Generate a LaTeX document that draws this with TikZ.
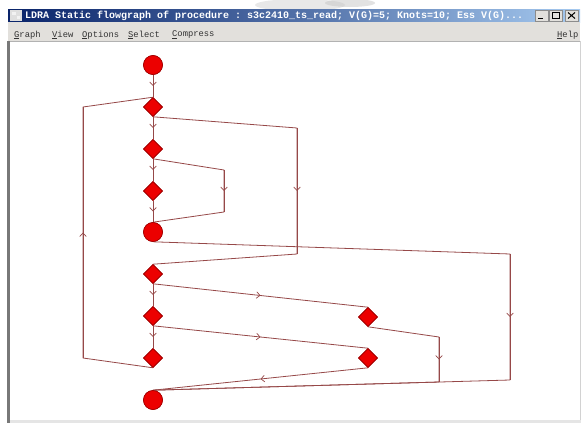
\documentclass[tikz,border=0pt]{standalone}
\usepackage{fontspec}
\setmonofont{Liberation Mono}
\usetikzlibrary{arrows.meta,decorations.markings,shapes.geometric}

\definecolor{edgecol}{RGB}{150,72,72}
\definecolor{nodefill}{RGB}{236,0,0}
\definecolor{nodeline}{RGB}{160,0,0}
\definecolor{titledark}{RGB}{10,36,106}
\definecolor{titlelight}{RGB}{166,202,240}
\definecolor{winface}{RGB}{226,224,220}
\definecolor{winframe}{RGB}{120,120,120}

\tikzset{
  flow/.style={draw=edgecol, line width=0.8pt, line join=round},
  midarrow/.style={postaction={decorate},
    decoration={markings, mark=at position 0.5 with
      {\arrow[edgecol]{Straight Barb[length=3.5pt,width=6.5pt,line width=0.7pt]}}}},
  junction/.style={circle, fill=nodefill, draw=nodeline, line width=0.6pt,
    minimum size=19pt, inner sep=0pt},
  decision/.style={diamond, fill=nodefill, draw=nodeline, line width=0.6pt,
    minimum width=19pt, minimum height=19pt, inner sep=0pt},
  titletext/.style={font=\ttfamily\bfseries\fontsize{10}{10}\selectfont,
    text=white, anchor=west, inner sep=0pt},
  menutext/.style={font=\ttfamily\fontsize{8.8}{9}\selectfont,
    text=black!80, anchor=west, inner sep=0pt},
  winbutton/.style={fill=winface, draw=black!45, line width=0.5pt}
}

\begin{document}
\begin{tikzpicture}[x=1pt,y=-1pt]
  % page area
  \useasboundingbox (0,0) rectangle (584,423);
  \fill[white] (0,0) rectangle (584,423);
  % faint smudge above the window
  \fill[gray!30, opacity=0.6] (300,5) ellipse (45pt and 6pt);
  \fill[gray!45, opacity=0.5] (350,3) ellipse (25pt and 4pt);

  % title bar
  \shade[left color=titledark, right color=titlelight, middle color=titledark!55!titlelight]
    (8,9) rectangle (580,22);
  \fill[gray!25] (10,10) rectangle (22,21);
  \fill[white!90!gray] (12,12) rectangle (16,15);
  \fill[white!90!gray] (17,16) rectangle (20,19);
  \node[titletext] (title) at (25,15.5)
    {LDRA Static flowgraph of procedure : s3c2410\_ts\_read; V(G)=5; Knots=10; Ess V(G)...};

  % window buttons
  \draw[winbutton] (535,10) rectangle (548,21);
  \draw[black, line width=1.2pt] (538,18.5) -- (543,18.5);
  \draw[winbutton] (549,10) rectangle (562,21);
  \draw[black, line width=0.8pt] (552,12.5) rectangle (559,18.5);
  \draw[black, line width=1.4pt] (552,12.7) -- (559,12.7);
  \draw[winbutton] (565,10) rectangle (578,21);
  \draw[black, line width=1pt] (568,12.5) -- (575,18.5) (575,12.5) -- (568,18.5);

  % menu bar
  \fill[winface] (8,22) rectangle (580,41);
  \node[menutext] (mgraph) at (14,35) {\underline{G}raph};
  \node[menutext] (mview) at (52,35) {\underline{V}iew};
  \node[menutext] (mopt) at (82,35) {\underline{O}ptions};
  \node[menutext] (msel) at (128,35) {\underline{S}elect};
  \node[menutext] (mcomp) at (172,35) {\underline{C}ompress};
  \node[menutext] (mhelp) at (557,35) {\underline{H}elp};

  % canvas frame
  \draw[gray!60, line width=0.8pt] (10,41.5) -- (580,41.5);
  \fill[winframe] (7,41) rectangle (10,423);
  \fill[gray!35] (579.5,41) rectangle (581,423);
  \fill[gray!20] (10,420) rectangle (581,423);

  % flowgraph nodes
  \node[junction] (c1) at (153,65) {};
  \node[decision] (d1) at (153,107) {};
  \node[decision] (d2) at (153,149) {};
  \node[decision] (d3) at (153,191) {};
  \node[junction] (c2) at (153,232) {};
  \node[decision] (d4) at (153,274) {};
  \node[decision] (d5) at (153,316) {};
  \node[decision] (d6) at (153,358) {};
  \node[junction] (c3) at (153,400) {};
  \node[decision] (r1) at (368,317) {};
  \node[decision] (r2) at (368,358) {};

  % bend points
  \coordinate (l1) at (83,358);
  \coordinate (l2) at (83,107);
  \coordinate (t1) at (297,128);
  \coordinate (t2) at (297,254);
  \coordinate (i1) at (224,170);
  \coordinate (i2) at (224,212);
  \coordinate (o1) at (510,254);
  \coordinate (o2) at (510,380);
  \coordinate (m1) at (439,337);
  \coordinate (m2) at (439,382);

  % straight-line flow down the spine
  \draw[flow,midarrow] (c1.south) -- (d1.north);
  \draw[flow,midarrow] (d1.south) -- (d2.north);
  \draw[flow,midarrow] (d2.south) -- (d3.north);
  \draw[flow,midarrow] (d3.south) -- (c2.north);
  \draw[flow,midarrow] (d4.south) -- (d5.north);
  \draw[flow,midarrow] (d5.south) -- (d6.north);

  % loop back from d6 to d1
  \draw[flow] (d6.south) -- (l1) -- (l2) -- (d1.north);
  \draw[flow,midarrow] (l1) -- (l2);

  % d1 jumps to d4
  \draw[flow] (d1.south) -- (t1) -- (t2) -- (d4.north);
  \draw[flow,midarrow] (t1) -- (t2);

  % d2 jumps to c2
  \draw[flow] (d2.south) -- (i1) -- (i2) -- (c2.north);
  \draw[flow,midarrow] (i1) -- (i2);

  % c2 jumps to c3
  \draw[flow] (c2.south) -- (o1) -- (o2) -- (c3.north);
  \draw[flow,midarrow] (o1) -- (o2);

  % side branches
  \draw[flow,midarrow] (d4.south) -- (r1.north);
  \draw[flow] (r1.south) -- (m1) -- (m2) -- (c3.north);
  \draw[flow,midarrow] (m1) -- (m2);
  \draw[flow,midarrow] (d5.south) -- (r2.north);
  \draw[flow,midarrow] (r2.south) -- (c3.north);

  % redraw nodes above the connectors
  \foreach \n/\s in {c1/junction,c2/junction,c3/junction}
    \node[\s] at (\n) {};
  \foreach \n in {d1,d2,d3,d4,d5,d6,r1,r2}
    \node[decision] at (\n) {};
\end{tikzpicture}
\end{document}
